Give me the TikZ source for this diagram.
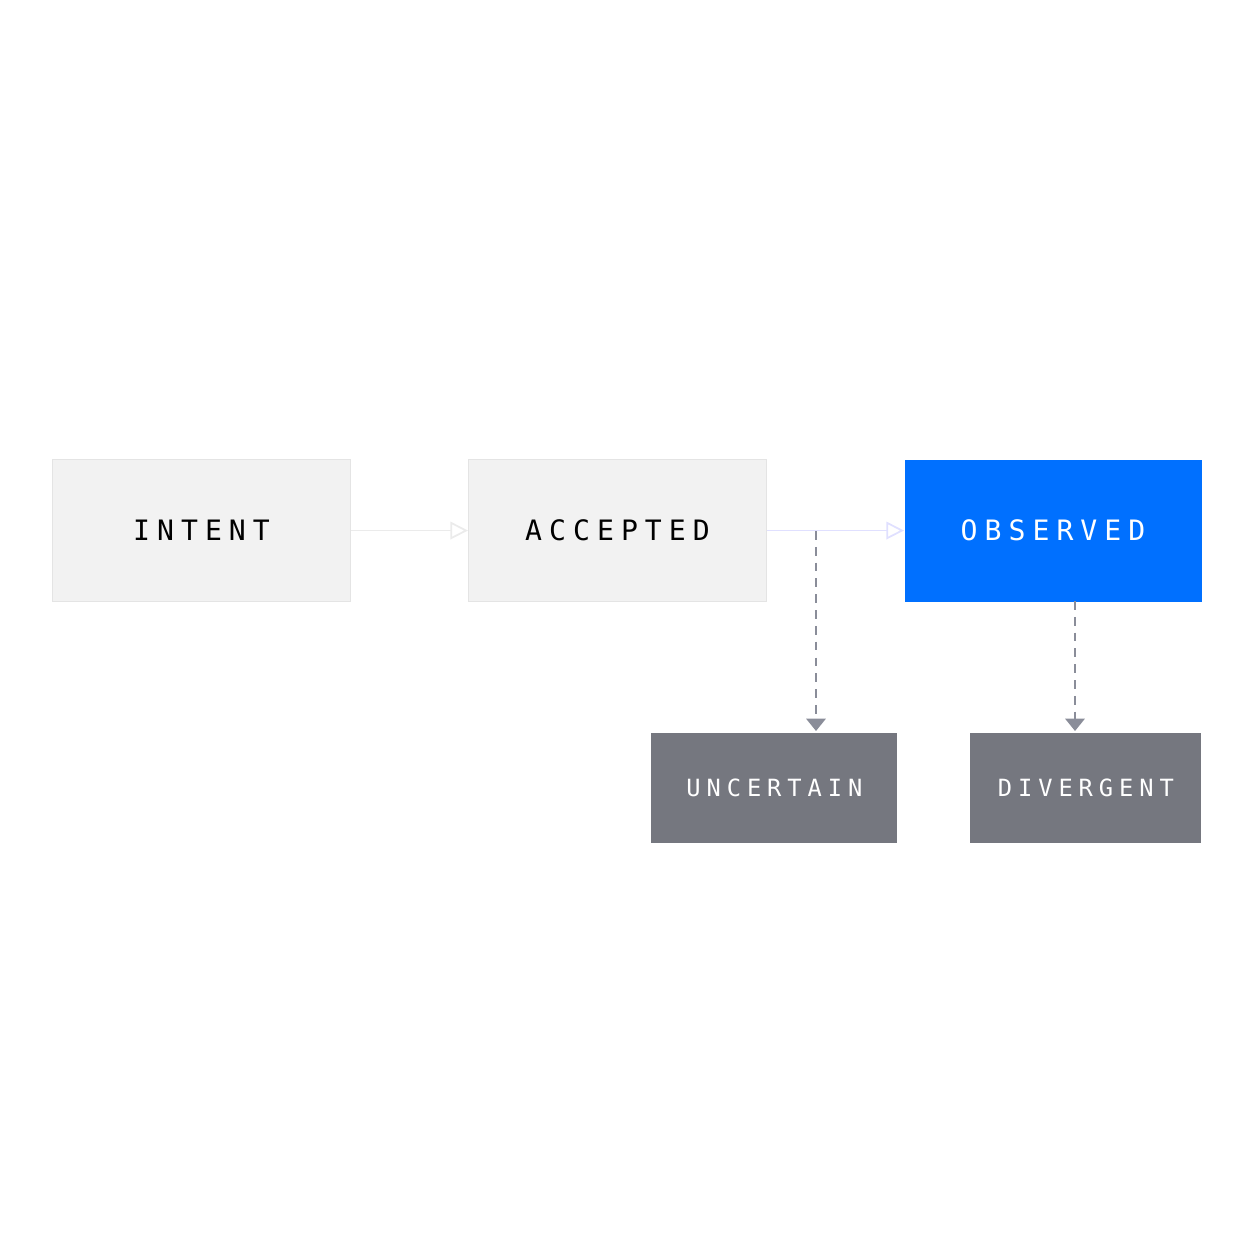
\documentclass[tikz,border=0pt]{standalone}
\usepackage{fontspec}
\setmonofont{DejaVu Sans Mono}
\usetikzlibrary{arrows.meta}
\definecolor{lbox}{HTML}{F2F2F2}
\definecolor{lborder}{HTML}{E4E4E4}
\definecolor{obs}{HTML}{0070FF}
\definecolor{gbox}{HTML}{75777F}
\definecolor{dash}{HTML}{8A8D99}
\begin{document}
\begin{tikzpicture}[x=0.02cm,y=-0.02cm,
  box/.style={draw=lborder,fill=lbox,line width=0.6pt,inner sep=0,anchor=north west,
    font=\ttfamily\fontsize{16}{16}\selectfont\addfontfeature{LetterSpace=25}},
  small/.style={draw=none,fill=gbox,text=white,inner sep=0,anchor=north west,
    font=\ttfamily\fontsize{13.5}{14}\selectfont\addfontfeature{LetterSpace=25}},
  faint/.style={draw=#1,line width=1pt,-{Triangle[open,length=10pt,width=10pt]}},
  dsh/.style={draw=dash,line width=1.2pt,dash pattern=on 5pt off 4pt,-{Triangle[length=7pt,width=11pt]}}]
\useasboundingbox (0,0) rectangle (1254,1254);
\node[box,minimum width=298*0.02cm,minimum height=142*0.02cm] (intent) at (52,459) {INTENT};
\node[box,minimum width=298*0.02cm,minimum height=142*0.02cm] (acc) at (468,459) {ACCEPTED};
\node[box,draw=none,fill=obs,text=white,minimum width=297*0.02cm,minimum height=142*0.02cm] (obs) at (904,459) {OBSERVED};
\node[small,minimum width=246*0.02cm,minimum height=110*0.02cm] (unc) at (651,733) {UNCERTAIN};
\node[small,minimum width=231*0.02cm,minimum height=110*0.02cm] (div) at (970,733) {DIVERGENT};
\draw[faint=black!8] (intent.east) -- (acc.west);
\draw[faint=blue!12] (acc.east) -- (obs.west);
\coordinate (br) at (816,531);
\draw[dsh] (br) -- (816,731);
\draw[dsh] (1075,601) -- (1075,731);
\end{tikzpicture}
\end{document}
